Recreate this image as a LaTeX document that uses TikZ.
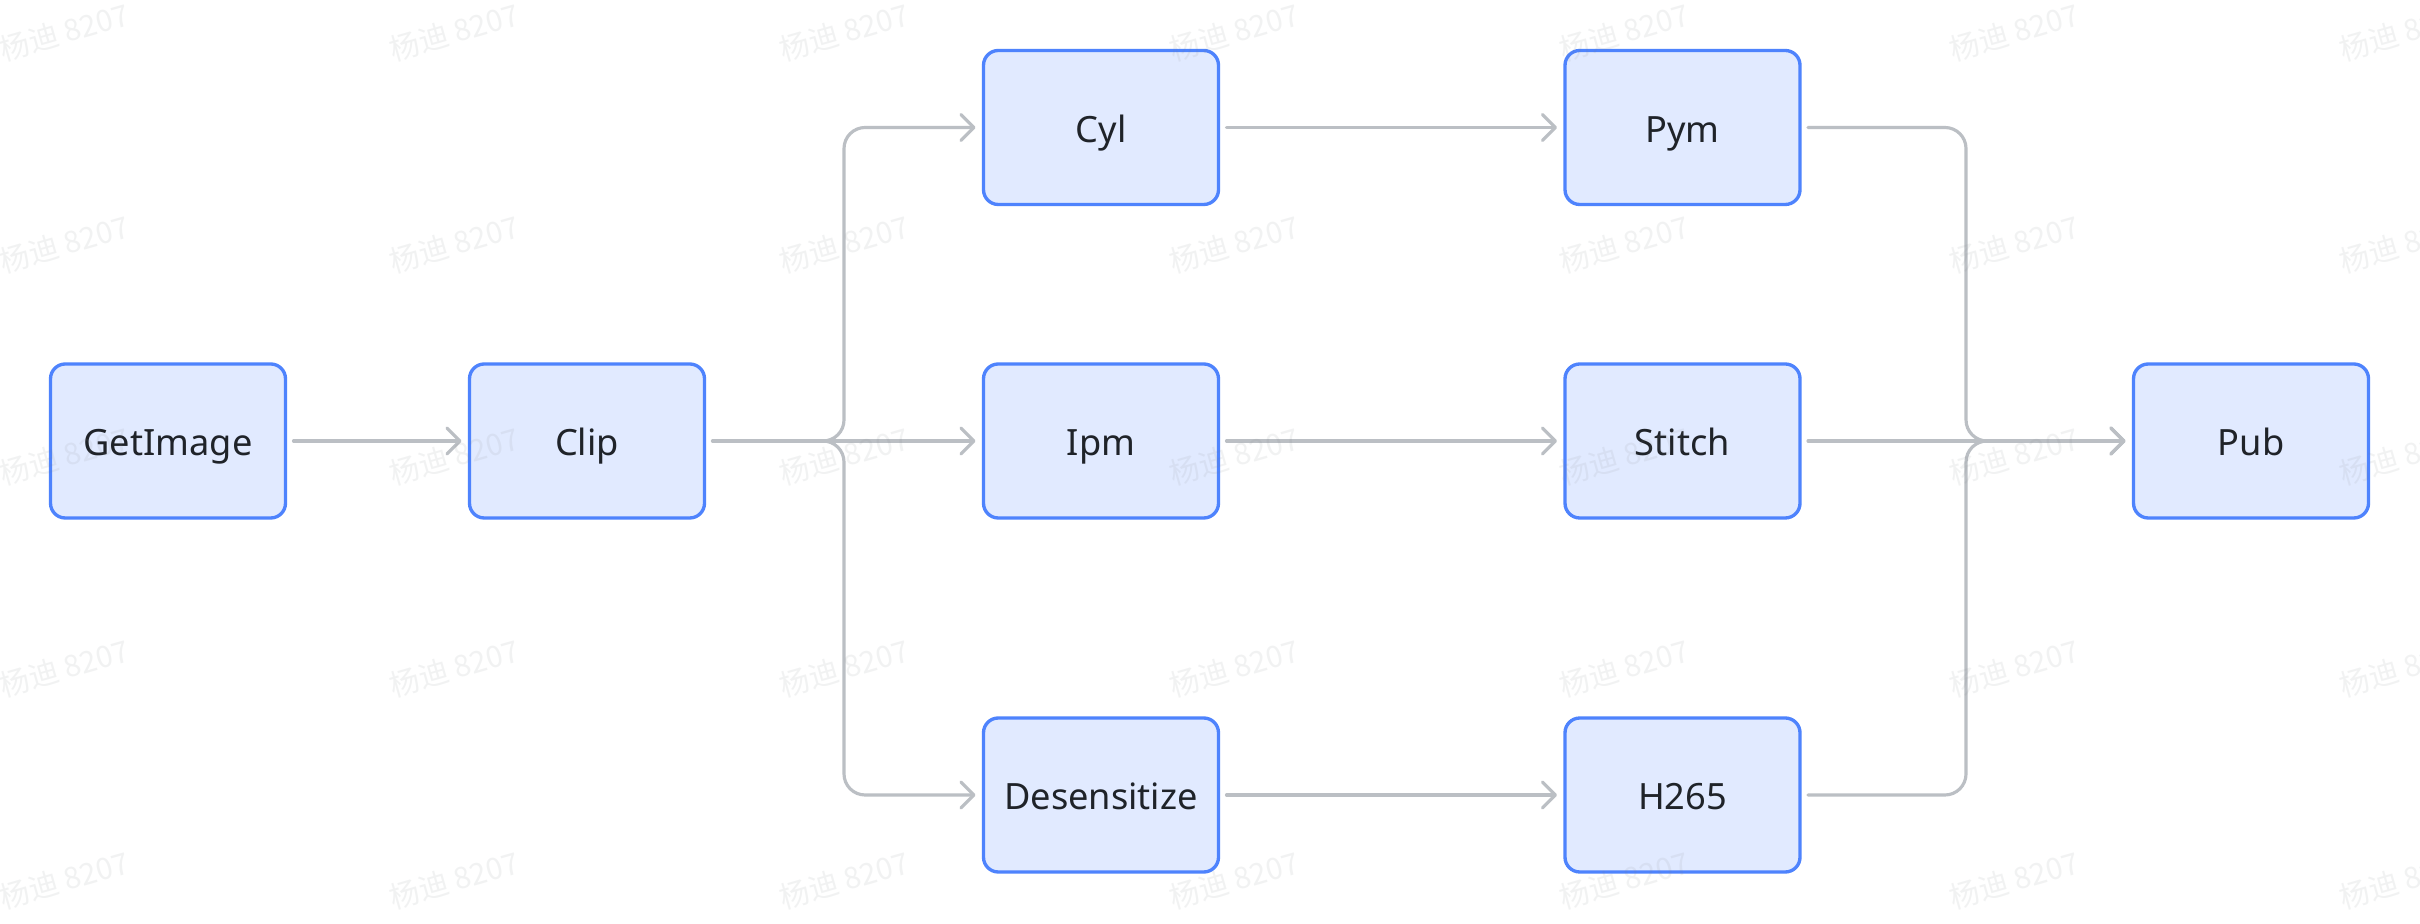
\documentclass[tikz,border=0pt]{standalone}
\usepackage{fontspec}
\setmainfont{Noto Sans}
\newfontfamily\cjkwm{Noto Sans CJK SC}
\usetikzlibrary{arrows.meta}
\definecolor{boxfill}{HTML}{E1EAFF}
\definecolor{boxblue}{HTML}{4E83FD}
\definecolor{edgegray}{HTML}{BBBFC4}
\definecolor{textdark}{HTML}{1F2329}
\definecolor{wmgray}{HTML}{7F8287}
\tikzset{
  stagebox/.style={draw=boxblue, fill=boxfill, line width=0.95pt,
    rounded corners=4.2pt, minimum width=23.5mm, minimum height=15.4mm,
    inner sep=0pt, outer sep=0pt, text=textdark,
    font=\fontsize{10.3pt}{12pt}\selectfont, text height=8.3pt, text depth=0pt},
  edge/.style={draw=edgegray, line width=0.9pt, line cap=round, line join=round,
    -{Straight Barb[length=3.7pt, width=7.4pt, line cap=round, line join=round]}},
  wmark/.style={text=wmgray, opacity=0.10, rotate=16,
    font=\cjkwm\fontsize{8.5pt}{10pt}\selectfont, inner sep=0pt}
}
\begin{document}
\begin{tikzpicture}[x=0.1mm, y=-0.1mm]
\useasboundingbox (0,0) rectangle (2420,924);
\fill[white] (0,0) rectangle (2420,924);

\node[stagebox] (getimage) at (168,441) {GetImage};
\node[stagebox] (clip) at (587,441) {Clip};
\node[stagebox] (cyl) at (1101,127.5) {Cyl};
\node[stagebox] (ipm) at (1101,441) {Ipm};
\node[stagebox] (desens) at (1101,795) {Desensitize};
\node[stagebox] (pym) at (1682.5,127.5) {Pym};
\node[stagebox] (stitch) at (1682.5,441) {Stitch};
\node[stagebox] (h265) at (1682.5,795) {H265};
\node[stagebox] (pub) at (2251,441) {Pub};

\coordinate (split) at (844,441);
\coordinate (merge) at (1966,441);

\draw[edge] ([xshift=0.8mm]getimage.east) -- ([xshift=-0.8mm]clip.west);
\draw[edge] ([xshift=0.8mm]clip.east) -- ([xshift=-0.8mm]ipm.west);
\draw[edge, rounded corners=6pt] ([xshift=0.8mm]clip.east) -- (split) -- (split |- cyl.west) -- ([xshift=-0.8mm]cyl.west);
\draw[edge, rounded corners=6pt] ([xshift=0.8mm]clip.east) -- (split) -- (split |- desens.west) -- ([xshift=-0.8mm]desens.west);

\draw[edge] ([xshift=0.8mm]cyl.east) -- ([xshift=-0.8mm]pym.west);
\draw[edge] ([xshift=0.8mm]ipm.east) -- ([xshift=-0.8mm]stitch.west);
\draw[edge] ([xshift=0.8mm]desens.east) -- ([xshift=-0.8mm]h265.west);

\draw[edge] ([xshift=0.8mm]stitch.east) -- ([xshift=-0.8mm]pub.west);
\draw[edge, rounded corners=6pt] ([xshift=0.8mm]pym.east) -- (merge |- pym.east) -- (merge) -- ([xshift=-0.8mm]pub.west);
\draw[edge, rounded corners=6pt] ([xshift=0.8mm]h265.east) -- (merge |- h265.east) -- (merge) -- ([xshift=-0.8mm]pub.west);

\begin{scope}
\clip (0,0) rectangle (2420,924);
\foreach \i in {0,...,6} {
  \foreach \j in {0,...,4} {
    \node[wmark] (wm-\i-\j) at (64+390*\i, 32+212*\j) {杨迪 8207};
  }
}
\end{scope}
\end{tikzpicture}
\end{document}
